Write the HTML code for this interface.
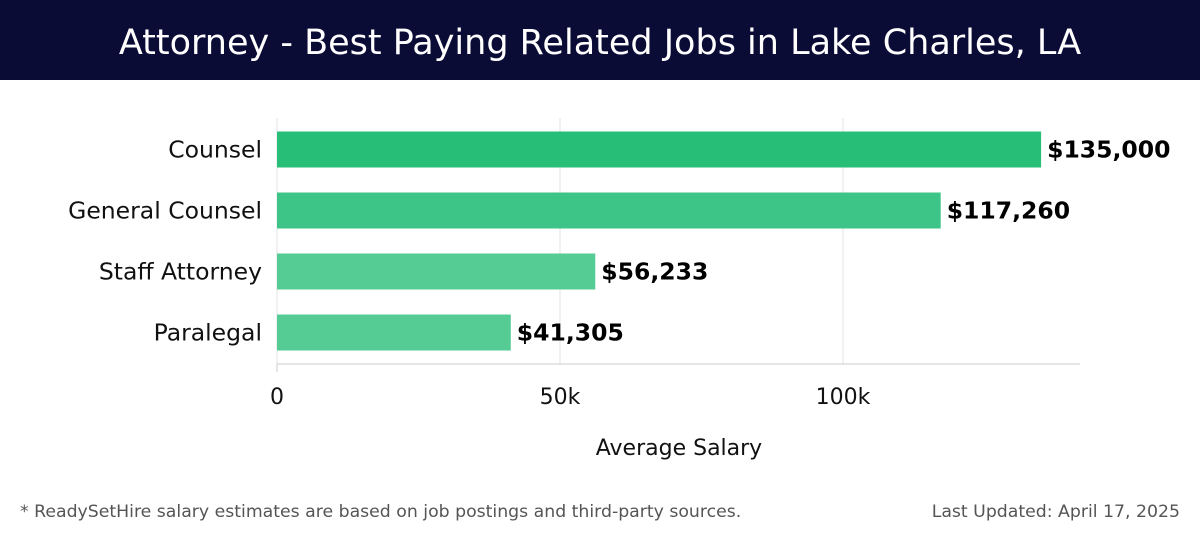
<!DOCTYPE html>
<html><head><meta charset="utf-8"><style>
body{margin:0;width:1200px;height:540px;background:#fff;font-family:"DejaVu Sans","Liberation Sans",sans-serif;overflow:hidden}
#title{position:absolute;left:0;top:0;width:1200px;height:80px;background:#0b0c36;color:#fff;font-size:35px;text-align:center;line-height:86px}
.foot{position:absolute;top:502px;font-size:17.3px;color:#555}
</style></head><body>
<div id="title">Attorney - Best Paying Related Jobs in Lake Charles, LA</div>
<svg id="chart" width="1200" height="540" style="position:absolute;left:0;top:0;pointer-events:none;font-family:'DejaVu Sans',sans-serif"></svg>
<div class="foot" style="left:20px">* ReadySetHire salary estimates are based on job postings and third-party sources.</div>
<div class="foot" style="right:20px">Last Updated: April 17, 2025</div>
<script>
const categories=["Counsel","General Counsel","Staff Attorney","Paralegal"];
const values=[135000,117260,56233,41305];
const labels=["$135,000","$117,260","$56,233","$41,305"];
const tickValues=[0,50000,100000];
const tickLabels=["0","50k","100k"];
const colors=["#27bf78","#3cc586","#56cc95","#56cc95"];
const NS="http://www.w3.org/2000/svg";
const svg=document.getElementById('chart');
const x0=277,x1=843,plotTop=118,plotBot=364,axisRight=1080;
const xs=v=>x0+(v/100000)*(x1-x0);
const bandTop=119,band=61,barH=36;
const ys=i=>bandTop+i*band+(band-barH)/2;
function mk(t,a){const e=document.createElementNS(NS,t);for(const k in a)e.setAttribute(k,a[k]);svg.appendChild(e);return e;}
tickValues.forEach((v,i)=>{
 const g=mk('line',{x1:xs(v),x2:xs(v),y1:plotTop,y2:plotBot,stroke:'#e3e3e3','stroke-width':1});
 
 
 const t=mk('text',{x:xs(v),y:404,'text-anchor':'middle','font-size':22,fill:'#111'});
 t.textContent=tickLabels[i];
 
 
});
const ax=mk('line',{x1:x0,x2:axisRight,y1:plotBot,y2:plotBot,stroke:'#ccc','stroke-width':1});


const tk=mk('line',{x1:x0,x2:x0,y1:plotBot,y2:plotBot+8,stroke:'#ccc'});


categories.forEach((c,i)=>{
 const y=ys(i);
 const r=mk('rect',{x:x0,y:y,width:xs(values[i])-x0,height:barH,fill:colors[i]});
 
 
 const l=mk('text',{x:262,y:y+barH/2+8,'text-anchor':'end','font-size':23.5,fill:'#111'});
 l.textContent=c;
 
 
 const v=mk('text',{x:xs(values[i])+6,y:y+barH/2+8,'font-size':23.5,'font-weight':'bold',fill:'#000'});
 v.textContent=labels[i];
 
 
});
const at=mk('text',{x:679,y:455,'text-anchor':'middle','font-size':22,fill:'#111'});
at.textContent='Average Salary';


</script>
</body></html>
